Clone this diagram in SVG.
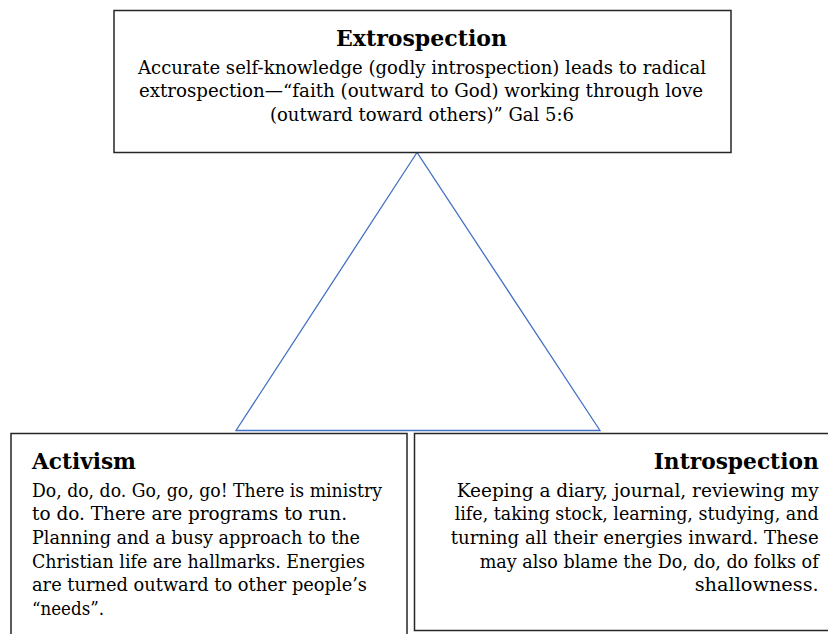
<svg xmlns="http://www.w3.org/2000/svg" width="828" height="634" viewBox="0 0 828 634">
<style>
.box{fill:#fff;stroke:#262626;stroke-width:1.5}
.tri{fill:none;stroke:#4472C4;stroke-width:1.3}
.t{font-family:"DejaVu Serif","Liberation Serif",serif;font-weight:bold;font-size:23px;fill:#000}
.b{font-family:"DejaVu Serif","Liberation Serif",serif;font-size:18px;fill:#000}
</style>
<rect width="828" height="634" fill="#fff"/>
<g id="connectors">
<polygon class="tri" points="417,152.5 236,430.5 600,430.5"/>
</g>
<g id="extrospection">
<rect class="box" x="114" y="10.5" width="617" height="142"/>
<text class="t" x="421.5" y="45.5" text-anchor="middle" textLength="171" lengthAdjust="spacingAndGlyphs">Extrospection</text>
<text class="b" x="422" y="74" text-anchor="middle" textLength="568" lengthAdjust="spacingAndGlyphs">Accurate self-knowledge (godly introspection) leads to radical</text>
<text class="b" x="421" y="97.3" text-anchor="middle" textLength="564" lengthAdjust="spacingAndGlyphs">extrospection—“faith (outward to God) working through love</text>
<text class="b" x="422" y="120.7" text-anchor="middle" textLength="304" lengthAdjust="spacingAndGlyphs">(outward toward others)” Gal 5:6</text>
</g>
<g id="activism">
<rect class="box" x="11" y="433.5" width="396" height="220"/>
<text class="t" x="32" y="469.3" textLength="104" lengthAdjust="spacingAndGlyphs">Activism</text>
<text class="b" x="32" y="496.7" textLength="350" lengthAdjust="spacingAndGlyphs">Do, do, do. Go, go, go! There is ministry</text>
<text class="b" x="32" y="520.3" textLength="315" lengthAdjust="spacingAndGlyphs">to do. There are programs to run.</text>
<text class="b" x="32" y="544" textLength="328" lengthAdjust="spacingAndGlyphs">Planning and a busy approach to the</text>
<text class="b" x="32" y="567.7" textLength="333" lengthAdjust="spacingAndGlyphs">Christian life are hallmarks. Energies</text>
<text class="b" x="32" y="591.3" textLength="335" lengthAdjust="spacingAndGlyphs">are turned outward to other people’s</text>
<text class="b" x="32" y="615" textLength="72" lengthAdjust="spacingAndGlyphs">“needs”.</text>
</g>
<g id="introspection">
<rect class="box" x="414.5" y="433.5" width="430" height="197"/>
<text class="t" x="818.7" y="469.3" text-anchor="end" textLength="165" lengthAdjust="spacingAndGlyphs">Introspection</text>
<text class="b" x="818.7" y="496.7" text-anchor="end" textLength="362" lengthAdjust="spacingAndGlyphs">Keeping a diary, journal, reviewing my</text>
<text class="b" x="818.7" y="520.3" text-anchor="end" textLength="364" lengthAdjust="spacingAndGlyphs">life, taking stock, learning, studying, and</text>
<text class="b" x="818.7" y="544" text-anchor="end" textLength="368" lengthAdjust="spacingAndGlyphs">turning all their energies inward. These</text>
<text class="b" x="818.7" y="567.7" text-anchor="end" textLength="339" lengthAdjust="spacingAndGlyphs">may also blame the Do, do, do folks of</text>
<text class="b" x="818.7" y="591.3" text-anchor="end" textLength="124" lengthAdjust="spacingAndGlyphs">shallowness.</text>
</g>
</svg>
